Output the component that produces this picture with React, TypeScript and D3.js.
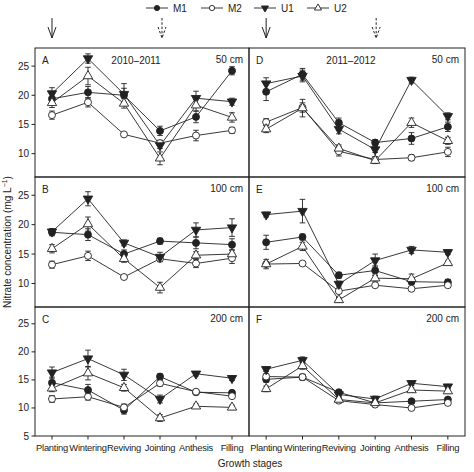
import React from 'react';
import * as d3 from 'd3';

const stages = ['Planting', 'Wintering', 'Reviving', 'Jointing', 'Anthesis', 'Filling'];
const treatments = ['M1', 'M2', 'U1', 'U2'];
const panelLetters = ['A', 'B', 'C', 'D', 'E', 'F'];
const depths = ['50 cm', '100 cm', '200 cm'];
const seasons = ['2010–2011', '2011–2012'];
const yTicksUpper = [10, 15, 20, 25];
const yTicksLower = [5, 10, 15, 20, 25];
const yDomainUpper = [6, 28.1];
const yDomainLower = [5, 28];

// Panel A (2010–2011, 50 cm)
const A_M1 = [19.4, 20.5, 20.0, 13.9, 16.3, 24.2];
const A_M2 = [16.6, 18.8, 13.3, 11.8, 13.1, 14.0];
const A_U1 = [20.3, 26.3, 20.2, 11.4, 19.5, 18.9];
const A_U2 = [18.7, 23.3, 18.6, 9.2, 18.3, 16.2];
const A_M1_err = [1.0, 1.0, 1.2, 0.8, 1.0, 0.7];
const A_M2_err = [0.7, 0.8, 0.3, 0.5, 0.9, 0.5];
const A_U1_err = [1.0, 0.8, 1.8, 0.5, 1.2, 0.6];
const A_U2_err = [0.8, 1.5, 0.8, 1.1, 1.0, 0.8];

// Panel B (2010–2011, 100 cm)
const B_M1 = [18.7, 18.3, 15.0, 17.2, 16.9, 16.6];
const B_M2 = [13.2, 14.7, 11.1, 14.2, 13.4, 14.3];
const B_U1 = [18.8, 24.4, 16.9, 14.5, 19.1, 19.5];
const B_U2 = [15.9, 20.1, 14.2, 9.3, 14.8, 15.0];
const B_M1_err = [0.6, 1.0, 0.7, 0.5, 1.0, 1.0];
const B_M2_err = [0.6, 0.8, 0.3, 0.4, 0.7, 0.9];
const B_U1_err = [0.5, 1.2, 0.5, 0.8, 1.2, 1.5];
const B_U2_err = [0.7, 1.2, 0.6, 0.9, 0.6, 0.8];

// Panel C (2010–2011, 200 cm)
const C_M1 = [14.5, 13.2, 9.6, 15.6, 12.8, 12.7];
const C_M2 = [11.6, 12.0, 10.1, 14.4, 12.9, 12.1];
const C_U1 = [16.3, 18.8, 15.9, 11.6, 16.1, 15.3];
const C_U2 = [13.5, 16.2, 13.6, 8.2, 10.3, 10.1];
const C_M1_err = [1.0, 1.0, 0.7, 0.5, 0.4, 0.4];
const C_M2_err = [0.6, 0.6, 0.6, 0.5, 0.4, 0.4];
const C_U1_err = [1.0, 1.5, 1.0, 0.7, 0.4, 0.4];
const C_U2_err = [0.6, 1.2, 0.6, 0.6, 0.4, 0.4];

// Panel D (2011–2012, 50 cm)
const D_M1 = [20.6, 23.6, 15.3, 11.9, 12.6, 14.6];
const D_M2 = [15.4, 17.9, 10.4, 9.0, 9.3, 10.3];
const D_U1 = [22.0, 23.3, 14.2, 10.7, 22.6, 16.4];
const D_U2 = [14.2, 17.8, 10.9, 8.8, 15.3, 12.2];
const D_M1_err = [1.5, 1.0, 0.8, 0.5, 1.0, 0.8];
const D_M2_err = [0.6, 0.8, 0.8, 0.5, 0.5, 0.8];
const D_U1_err = [1.0, 1.0, 0.8, 0.5, 0.5, 0.6];
const D_U2_err = [0.6, 1.5, 0.6, 0.5, 0.8, 0.6];

// Panel E (2011–2012, 100 cm)
const E_M1 = [17.0, 17.9, 11.4, 12.2, 10.3, 10.2];
const E_M2 = [13.3, 13.4, 8.7, 9.7, 9.1, 9.7];
const E_U1 = [21.7, 22.3, 9.9, 13.9, 15.7, 15.3];
const E_U2 = [13.3, 16.3, 7.2, 10.9, 10.8, 13.5];
const E_M1_err = [1.2, 0.5, 0.5, 0.8, 0.5, 0.5];
const E_M2_err = [0.3, 0.3, 0.3, 0.3, 0.3, 0.3];
const E_U1_err = [0.4, 2.0, 0.5, 1.1, 0.6, 0.4];
const E_U2_err = [0.8, 0.7, 0.4, 0.5, 0.8, 0.3];

// Panel F (2011–2012, 200 cm)
const F_M1 = [15.1, 15.5, 12.8, 10.9, 11.2, 11.5];
const F_M2 = [15.6, 15.5, 11.3, 10.6, 10.0, 10.9];
const F_U1 = [16.9, 18.5, 12.4, 11.6, 14.4, 13.8];
const F_U2 = [13.4, 17.5, 11.5, 10.9, 13.2, 13.0];
const F_M1_err = [0.5, 0.5, 0.4, 0.4, 0.3, 0.3];
const F_M2_err = [0.5, 0.4, 0.4, 0.4, 0.3, 0.3];
const F_U1_err = [0.4, 0.6, 0.4, 0.5, 0.4, 0.4];
const F_U2_err = [0.5, 0.6, 0.4, 0.5, 0.4, 0.4];

const panelValues = [
  [A_M1, A_M2, A_U1, A_U2],
  [B_M1, B_M2, B_U1, B_U2],
  [C_M1, C_M2, C_U1, C_U2],
  [D_M1, D_M2, D_U1, D_U2],
  [E_M1, E_M2, E_U1, E_U2],
  [F_M1, F_M2, F_U1, F_U2],
];
const panelErrors = [
  [A_M1_err, A_M2_err, A_U1_err, A_U2_err],
  [B_M1_err, B_M2_err, B_U1_err, B_U2_err],
  [C_M1_err, C_M2_err, C_U1_err, C_U2_err],
  [D_M1_err, D_M2_err, D_U1_err, D_U2_err],
  [E_M1_err, E_M2_err, E_U1_err, E_U2_err],
  [F_M1_err, F_M2_err, F_U1_err, F_U2_err],
];

const INK = '#222';
const FONT = 'Liberation Sans, Arial, sans-serif';
const colX = [[35, 249], [249, 465]];
const rowY = [[48, 177], [177, 307], [307, 436]];

function Marker({ t, x, y, size = 1 }: { t: string; x: number; y: number; size?: number }) {
  const filled = t === 'M1' || t === 'U1';
  const fill = filled ? INK : '#fff';
  if (t === 'M1' || t === 'M2') {
    return <circle cx={x} cy={y} r={3.5 * size} fill={fill} stroke={INK} strokeWidth={0.9} />;
  }
  const path = d3.symbol().type(d3.symbolTriangle).size(38 * size * size)() as string;
  const rot = t === 'U1' ? 180 : 0;
  return <path d={path} transform={`translate(${x},${y}) rotate(${rot})`} fill={fill} stroke={INK} strokeWidth={0.9} />;
}

function Panel({ idx }: { idx: number }) {
  const col = Math.floor(idx / 3);
  const row = idx % 3;
  const [x0, x1] = colX[col];
  const [y0, y1] = rowY[row];
  const x = d3.scalePoint<string>().domain(stages).range([x0, x1]).padding(0.472);
  const dom = row === 2 ? yDomainLower : yDomainUpper;
  const y = d3.scaleLinear().domain(dom).range([y1, y0]);
  const ticks = row === 2 ? yTicksLower : yTicksUpper;
  const line = d3.line<number>().x((_, i) => x(stages[i]) as number).y((d) => y(d));
  return (
    <g>
      <rect x={x0} y={y0} width={x1 - x0} height={y1 - y0} fill="none" stroke={INK} strokeWidth={1} />
      {col === 0 &&
        ticks.map((t) => (
          <g key={t}>
            <line x1={x0 - 3.5} x2={x0} y1={y(t)} y2={y(t)} stroke={INK} />
            <text x={x0 - 6} y={y(t)} dy="0.35em" textAnchor="end" fontSize={10} fontFamily={FONT} fill={INK}>
              {t}
            </text>
          </g>
        ))}
      {row === 2 &&
        stages.map((s) => (
          <g key={s}>
            <line x1={x(s)} x2={x(s)} y1={y1} y2={y1 + 3.5} stroke={INK} />
            <text
              x={x(s)}
              y={y1 + 15}
              textAnchor="middle"
              fontSize={9.4}
              letterSpacing={-0.25}
              fontFamily={FONT}
              fill={INK}
            >
              {s}
            </text>
          </g>
        ))}
      <text x={x0 + 7} y={y0 + 16} fontSize={10} fontFamily={FONT} fill={INK}>
        {panelLetters[idx]}
      </text>
      {row === 0 && (
        <text x={(x0 + x1) / 2 - 6} y={y0 + 16} textAnchor="middle" fontSize={10} fontFamily={FONT} fill={INK}>
          {seasons[col]}
        </text>
      )}
      <text x={x1 - 6} y={y0 + 15} textAnchor="end" fontSize={10} fontFamily={FONT} fill={INK}>
        {depths[row]}
      </text>
      {treatments.map((t, si) => {
        const vals = panelValues[idx][si];
        const errs = panelErrors[idx][si];
        return (
          <g key={t}>
            <path d={line(vals) as string} fill="none" stroke={INK} strokeWidth={0.9} />
            {vals.map((v, i) => {
              const cx = x(stages[i]) as number;
              const e = errs[i];
              return (
                <g key={i} stroke={INK} strokeWidth={0.9}>
                  <line x1={cx} x2={cx} y1={y(v - e)} y2={y(v + e)} />
                  <line x1={cx - 2.8} x2={cx + 2.8} y1={y(v - e)} y2={y(v - e)} />
                  <line x1={cx - 2.8} x2={cx + 2.8} y1={y(v + e)} y2={y(v + e)} />
                </g>
              );
            })}
          </g>
        );
      })}
      {treatments.map((t, si) =>
        panelValues[idx][si].map((v, i) => <Marker key={t + i} t={t} x={x(stages[i]) as number} y={y(v)} />)
      )}
    </g>
  );
}

function Arrow({ x, dashed }: { x: number; dashed: boolean }) {
  const da = dashed ? '2.5,1.8' : undefined;
  return (
    <g stroke={INK} strokeWidth={1} fill="none" strokeDasharray={da}>
      <line x1={x} x2={x} y1={18} y2={38} />
      <path d={`M${x - 4},${27} L${x},${38} L${x + 4},${27}`} />
    </g>
  );
}

export default function App() {
  const xs0 = d3.scalePoint<string>().domain(stages).range(colX[0] as [number, number]).padding(0.472);
  const xs1 = d3.scalePoint<string>().domain(stages).range(colX[1] as [number, number]).padding(0.472);
  const legendX = [146, 201, 254, 307];
  return (
    <div style={{ position: 'absolute', left: 0, top: 0 }}>
      <svg width={474} height={472} style={{ display: 'block', background: '#fff' }}>
        {treatments.map((t, i) => (
          <g key={t}>
            <line x1={legendX[i]} x2={legendX[i] + 22} y1={8} y2={8} stroke={INK} strokeWidth={0.9} />
            <Marker t={t} x={legendX[i] + 11} y={8} size={0.75} />
            <text x={legendX[i] + 27} y={8} dy="0.35em" fontSize={10} fontFamily={FONT} fill={INK}>
              {t}
            </text>
          </g>
        ))}
        <Arrow x={xs0('Planting') as number} dashed={false} />
        <Arrow x={(xs0('Jointing') as number) + 2} dashed={true} />
        <Arrow x={xs1('Planting') as number} dashed={false} />
        <Arrow x={(xs1('Jointing') as number) + 1} dashed={true} />
        {panelLetters.map((_, i) => (
          <Panel key={i} idx={i} />
        ))}
        <text
          transform={`translate(11,242) rotate(-90)`}
          textAnchor="middle"
          fontSize={10}
          fontFamily={FONT}
          fill={INK}
        >
          Nitrate concentration (mg L
          <tspan dy={-4} fontSize={7}>−1</tspan>
          <tspan dy={4}>)</tspan>
        </text>
        <text x={250} y={467} textAnchor="middle" fontSize={10} fontFamily={FONT} fill={INK}>
          Growth stages
        </text>
      </svg>
    </div>
  );
}
